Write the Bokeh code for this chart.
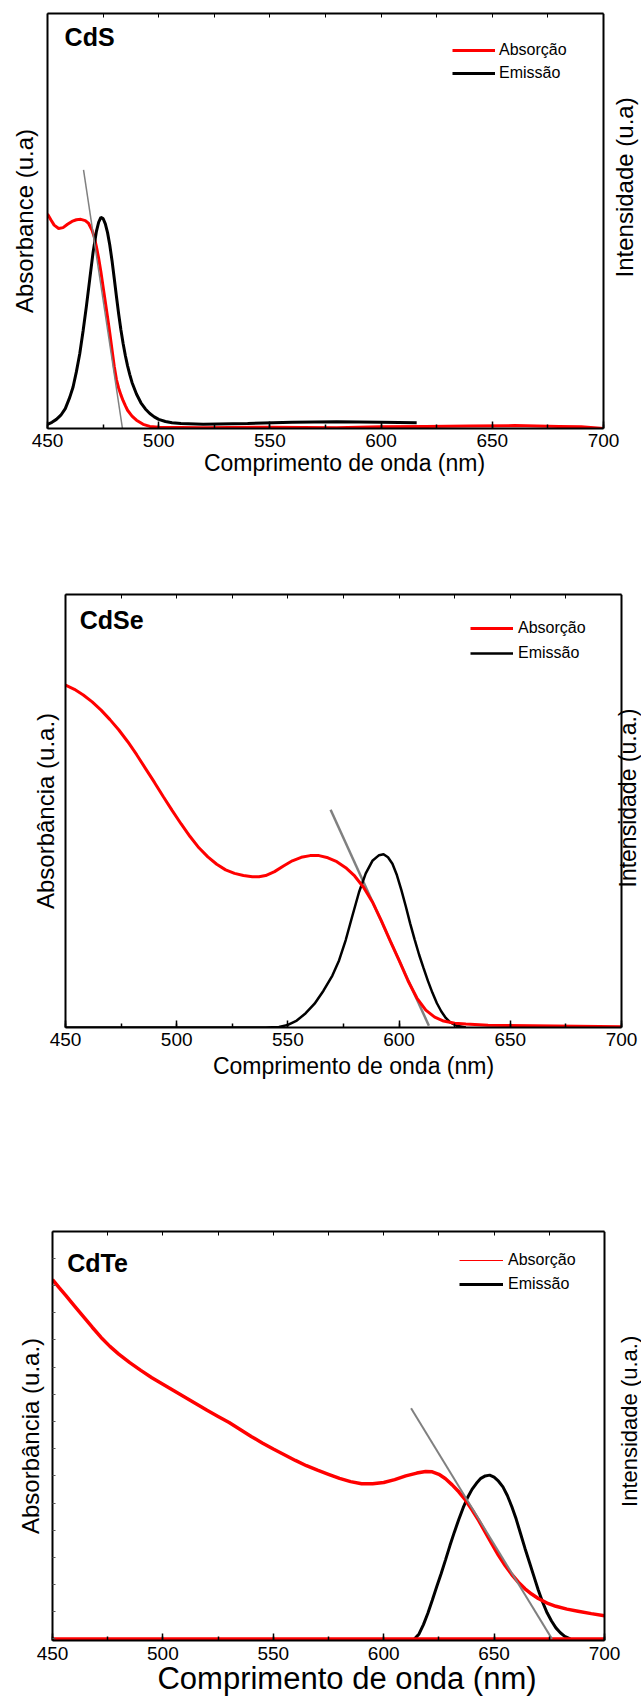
import math
from bokeh.plotting import figure
from bokeh.models import (LinearAxis, SingleIntervalTicker, CustomJSTickFormatter, Label,
                          Legend, LegendItem, Range1d, Span)
from bokeh.layouts import column
from bokeh.embed import file_html
from bokeh.resources import INLINE

FONT = "Liberation Sans"

# ---------------- data ----------------
samples = ["CdS", "CdSe", "CdTe"]
legend_labels = ["Absorção", "Emissão"]
x_title = "Comprimento de onda (nm)"
left_titles = ["Absorbance (u.a)", "Absorbância (u.a.)", "Absorbância (u.a.)"]
right_titles = ["Intensidade (u.a)", "Intensidade (u.a.)", "Intensidade (u.a.)"]
x_min, x_max = 450, 700

# CdS
cds_abs_x = [450, 451.5, 453, 455, 457, 459, 461, 463, 465, 467, 468.5, 470, 471, 472, 473, 474, 475,
             476, 477, 478, 479, 480, 481, 482, 483, 484, 485, 486, 488, 490, 493, 496, 500, 520, 550,
             580, 600, 620, 640, 660, 680, 690, 700]
cds_abs_y = [0.517, 0.503, 0.490, 0.482, 0.484, 0.492, 0.499, 0.503, 0.504, 0.501, 0.494, 0.478, 0.462,
             0.438, 0.410, 0.378, 0.341, 0.305, 0.268, 0.230, 0.190, 0.150, 0.118, 0.097, 0.081, 0.067,
             0.055, 0.044, 0.030, 0.020, 0.010, 0.005, 0.003, 0.002, 0.003, 0.002, 0.004, 0.005, 0.006,
             0.007, 0.005, 0.004, 0.0]
cds_em_x = [450, 452, 454, 456, 458, 460, 461.5, 463, 464.5, 466, 467.5, 469, 470.5, 472, 473, 474, 475,
            476, 477, 478, 479, 480, 481, 482, 483, 484, 485, 486, 487, 488, 490, 492, 494, 496, 498,
            500, 503, 506, 510, 520, 540, 560, 580, 600, 616]
cds_em_y = [0.010, 0.015, 0.022, 0.032, 0.048, 0.075, 0.100, 0.137, 0.180, 0.235, 0.295, 0.360, 0.425,
            0.475, 0.497, 0.509, 0.506, 0.493, 0.472, 0.442, 0.405, 0.362, 0.318, 0.276, 0.238, 0.205,
            0.176, 0.151, 0.130, 0.111, 0.083, 0.062, 0.047, 0.036, 0.028, 0.022, 0.017, 0.014, 0.012,
            0.010, 0.012, 0.015, 0.016, 0.015, 0.014]
cds_tan_x = [466.2, 483.7]
cds_tan_y = [0.623, 0.0]

# CdSe
cdse_abs_x = [450, 454, 458, 462, 466, 470, 474, 478, 482, 486, 490, 494, 498, 502, 506, 510, 514, 518,
              522, 526, 530, 534, 537, 540, 544, 548, 552, 556, 560, 564, 568, 572, 576, 580, 584, 588,
              592, 596, 600, 604, 608, 612, 616, 620, 625, 630, 640, 660, 680, 700]
cdse_abs_y = [0.791, 0.781, 0.768, 0.752, 0.733, 0.711, 0.687, 0.660, 0.630, 0.598, 0.566, 0.533, 0.501,
              0.470, 0.441, 0.415, 0.394, 0.377, 0.364, 0.356, 0.351, 0.348, 0.348, 0.351, 0.360, 0.373,
              0.385, 0.393, 0.397, 0.397, 0.392, 0.383, 0.369, 0.350, 0.324, 0.290, 0.247, 0.200, 0.155,
              0.108, 0.068, 0.040, 0.024, 0.015, 0.010, 0.008, 0.005, 0.004, 0.003, 0.0015]
cdse_em_x = [450, 540, 546, 550, 554, 558, 562, 566, 570, 573, 576, 579, 582, 585, 588, 591, 593, 595,
             597, 599, 601, 603, 605, 607, 609, 611, 613, 615, 617, 619, 621, 623, 626, 630]
cdse_em_y = [0.0, 0.0, 0.001, 0.006, 0.016, 0.033, 0.055, 0.085, 0.120, 0.155, 0.202, 0.258, 0.313,
             0.356, 0.385, 0.398, 0.400, 0.393, 0.378, 0.352, 0.318, 0.280, 0.240, 0.203, 0.168, 0.137,
             0.107, 0.080, 0.056, 0.037, 0.022, 0.012, 0.004, 0.0]
cdse_tan_x = [569.2, 613.4]
cdse_tan_y = [0.503, 0.004]

# CdTe
cdte_abs_x = [450, 453, 456, 460, 464, 468, 472, 476, 480, 485, 490, 495, 500, 505, 510, 515, 520, 525,
              530, 535, 540, 545, 550, 555, 560, 565, 570, 575, 580, 585, 590, 595, 600, 605, 610, 615,
              619, 622, 625, 628, 631, 634, 637, 640, 643, 646, 649, 652, 655, 658, 661, 664, 667, 670,
              674, 678, 683, 688, 694, 700]
cdte_abs_y = [0.882, 0.862, 0.843, 0.817, 0.791, 0.765, 0.740, 0.718, 0.699, 0.678, 0.659, 0.641, 0.625,
              0.609, 0.593, 0.577, 0.561, 0.546, 0.531, 0.514, 0.497, 0.481, 0.466, 0.452, 0.438, 0.425,
              0.414, 0.404, 0.394, 0.386, 0.381, 0.381, 0.384, 0.391, 0.400, 0.407, 0.411, 0.410, 0.404,
              0.393, 0.378, 0.361, 0.341, 0.317, 0.291, 0.262, 0.233, 0.205, 0.180, 0.158, 0.139, 0.123,
              0.110, 0.099, 0.088, 0.080, 0.073, 0.068, 0.062, 0.057]
cdte_base_x = [450, 700]
cdte_base_y = [0.0, 0.0]
cdte_em_x = [614, 616, 618, 620, 622, 624, 626, 628, 630, 632, 634, 636, 638, 640, 642, 644, 646, 648,
             650, 652, 654, 656, 658, 660, 662, 664, 666, 668, 670, 672, 674, 676, 678, 680, 682, 684.5]
cdte_em_y = [0.0, 0.012, 0.035, 0.063, 0.095, 0.128, 0.160, 0.194, 0.229, 0.262, 0.293, 0.322, 0.347,
             0.367, 0.382, 0.394, 0.400, 0.402, 0.397, 0.387, 0.373, 0.352, 0.325, 0.294, 0.258, 0.222,
             0.188, 0.154, 0.120, 0.090, 0.064, 0.044, 0.027, 0.015, 0.006, 0.0]
cdte_tan_x = [612.4, 676.2]
cdte_tan_y = [0.566, 0.0]

RED = "#ff0000"
GREY = "#808080"
W = 641


def blank():
    return CustomJSTickFormatter(code="return ''")


def make(h, bt, bb, bl, box_right_px, ylo, name_xy, ltitle, rtitle, rt_xy, rt_size, xt_size,
         xt_standoff, tick_standoff, lt_standoff, left_ticks):
    # plot area runs from the box's left edge to the page edge, so the right-hand
    # title can be drawn inside it; the box's right side is a span at x = 700
    nm_per_px = (x_max - x_min) / (box_right_px - bl)
    x_end = x_max + (W - box_right_px) * nm_per_px
    p = figure(width=W, height=h, x_range=Range1d(x_min, x_end), y_range=Range1d(ylo, 1.0),
               output_backend="svg", toolbar_location=None,
               min_border_top=bt, min_border_bottom=bb, min_border_left=bl, min_border_right=0)
    if "frame_align" in p.properties():
        p.frame_align = False
    p.xgrid.visible = False
    p.ygrid.visible = False
    p.outline_line_color = None
    p.background_fill_color = "white"
    p.border_fill_color = "white"

    xa = p.xaxis[0]
    xa.bounds = (x_min, x_max)
    xa.ticker = SingleIntervalTicker(interval=50, num_minor_ticks=2)
    xa.major_tick_in = 7
    xa.major_tick_out = 0
    xa.minor_tick_in = 4
    xa.minor_tick_out = 0
    xa.major_tick_line_width = 1.5
    xa.minor_tick_line_width = 1.5
    xa.axis_line_width = 2
    xa.major_label_text_font = FONT
    xa.major_label_text_font_size = "19px"
    xa.major_label_text_color = "black"
    xa.major_label_standoff = tick_standoff
    xa.axis_label = x_title
    xa.axis_label_text_font = FONT
    xa.axis_label_text_font_size = xt_size
    xa.axis_label_text_font_style = "normal"
    xa.axis_label_text_color = "black"
    xa.axis_label_standoff = xt_standoff

    ya = p.yaxis[0]
    ya.ticker = SingleIntervalTicker(interval=0.0667, num_minor_ticks=0)
    ya.formatter = blank()
    ya.major_label_text_font_size = "0px"
    ya.major_label_standoff = 0
    ya.major_tick_in = 3 if left_ticks else 0
    ya.major_tick_out = 0
    ya.major_tick_line_color = "#555555" if left_ticks else None
    ya.minor_tick_line_color = None
    ya.axis_line_width = 2
    ya.axis_label = ltitle
    ya.axis_label_text_font = FONT
    ya.axis_label_text_font_size = "24px"
    ya.axis_label_text_font_style = "normal"
    ya.axis_label_text_color = "black"
    ya.axis_label_standoff = lt_standoff

    top = LinearAxis(ticker=SingleIntervalTicker(interval=25, num_minor_ticks=0), formatter=blank(),
                     bounds=(x_min, x_max), major_label_text_font_size="0px", major_label_standoff=0,
                     major_tick_in=4, major_tick_out=0, minor_tick_line_color=None,
                     axis_line_width=2)
    p.add_layout(top, "above")
    p.add_layout(Span(location=x_max, dimension="height", line_color="black", line_width=2))

    p.add_layout(Label(x=name_xy[0], y=name_xy[1], text=name_xy[2], text_font=FONT,
                       text_font_size="25px", text_font_style="bold", text_color="black",
                       text_align="left", text_baseline="middle"))
    p.add_layout(Label(x=rt_xy[0], y=rt_xy[1], text=rtitle, text_font=FONT, text_font_size=rt_size,
                       text_color="black", angle=math.pi / 2, text_align="center",
                       text_baseline="middle"))
    return p


def style_legend(p, items, loc, glyph_w, lab_standoff, spacing):
    lg = Legend(items=items, location=loc, glyph_width=glyph_w, glyph_height=20, label_height=20,
                label_standoff=lab_standoff, spacing=spacing, padding=0, margin=0,
                border_line_color=None, background_fill_alpha=0, label_text_font=FONT,
                label_text_font_size="16px", label_text_color="black")
    p.add_layout(lg)


# ---------- figure 1: CdS ----------
p1 = make(540, 13, 112, 47, 603, 0.0, (457.7, 0.9435, samples[0]), left_titles[0], right_titles[0],
          (709.4, 0.581), "24px", "23px", 0, 5, 10, False)
r1a = p1.line(cds_abs_x, cds_abs_y, line_color=RED, line_width=3)
r1e = p1.line(cds_em_x, cds_em_y, line_color="black", line_width=3)
p1.line(cds_tan_x, cds_tan_y, line_color=GREY, line_width=1.5)
style_legend(p1, [LegendItem(label=legend_labels[0], renderers=[r1a]),
                  LegendItem(label=legend_labels[1], renderers=[r1e])], (405, 345), 43, 4, 3)

# ---------- figure 2: CdSe ----------
p2 = make(640, 54, 153, 65, 621, 0.0, (456.4, 0.942, samples[1]), left_titles[1], right_titles[1],
          (702.9, 0.53), "23px", "23px", 4, 5, 7, False)
p2.line(cdse_tan_x, cdse_tan_y, line_color=GREY, line_width=2.5)
r2e = p2.line(cdse_em_x, cdse_em_y, line_color="black", line_width=2.5)
r2a = p2.line(cdse_abs_x, cdse_abs_y, line_color=RED, line_width=3)
style_legend(p2, [LegendItem(label=legend_labels[0], renderers=[r2a]),
                  LegendItem(label=legend_labels[1], renderers=[r2e])], (405, 364), 43, 5, 5)

# ---------- figure 3: CdTe ----------
p3 = make(522, 51, 62, 52, 604, -0.004, (456.7, 0.923, samples[2]), left_titles[2], right_titles[2],
          (711.3, 0.534), "22px", "31px", -2, 6, 9, True)
r3leg = p3.line(cdte_abs_x, cdte_abs_y, line_color=RED, line_width=1)
r3e = p3.line(cdte_em_x, cdte_em_y, line_color="black", line_width=3)
p3.line(cdte_base_x, cdte_base_y, line_color=RED, line_width=3)
p3.line(cdte_abs_x, cdte_abs_y, line_color=RED, line_width=3.5)
p3.line(cdte_tan_x, cdte_tan_y, line_color=GREY, line_width=2)
style_legend(p3, [LegendItem(label=legend_labels[0], renderers=[r3leg]),
                  LegendItem(label=legend_labels[1], renderers=[r3e])], (407, 346), 44, 5, 4)

layout = column(p1, p2, p3, spacing=0)
open("out.html", "w").write(file_html(layout, INLINE))
